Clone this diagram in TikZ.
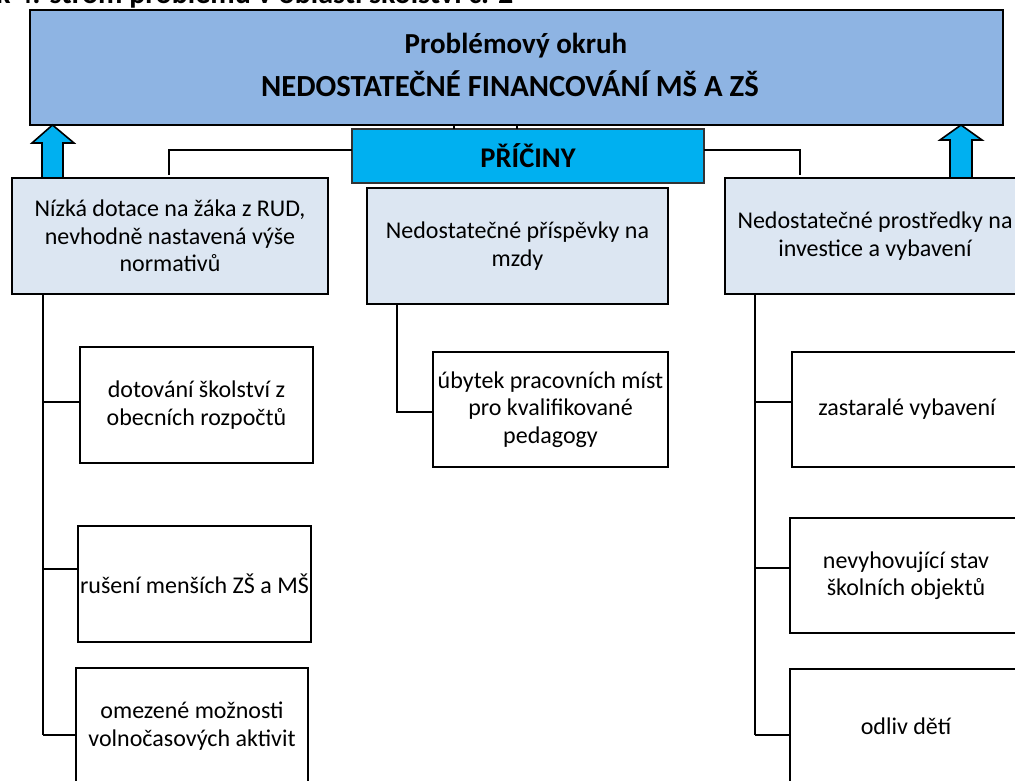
\documentclass[tikz,border=0pt]{standalone}
\usepackage{fontspec}
\setmainfont{Carlito}
\begin{document}
\begin{tikzpicture}[x=1pt,y=-1pt,
  every node/.style={inner sep=0pt,outer sep=0pt,align=center},
  base/.style={draw=black,line width=2pt,rectangle,font=\fontsize{24}{27.5}\selectfont},
  topbox/.style={base,fill=topblue,font=\bfseries\fontsize{29}{35}\selectfont},
  causebox/.style={base,fill=causefill},
  leafbox/.style={base,fill=white},
  pricbox/.style={draw=black!80,line width=1.8pt,rectangle,fill=cyanblue,font=\bfseries\fontsize{28.5}{32}\selectfont},
  conn/.style={draw=black,line width=2.7pt},
  uparrow/.style={draw=black,line width=1.6pt,fill=cyanblue,line join=miter}
]
\definecolor{topblue}{HTML}{8EB4E3}
\definecolor{cyanblue}{HTML}{00B0F0}
\definecolor{causefill}{HTML}{DCE6F2}
\useasboundingbox (0,0) rectangle (1015,780);
\fill[white] (0,0) rectangle (1015,780);

% partially visible caption at the very top
\node[anchor=base west,font=\bfseries\fontsize{30}{35}\selectfont] (cap) at (-4,3) {k 4: strom problému v oblasti školství č. 2};

% main boxes
\node[topbox,minimum width=973,minimum height=115] (top) at (516.5,67.5) {};
\node[font=\bfseries\fontsize{29}{35}\selectfont] (topl1) at (516,46) {Problémový okruh};
\node[font=\bfseries\fontsize{30.7}{35}\selectfont] (topl2) at (510,84) {NEDOSTATEČNÉ FINANCOVÁNÍ MŠ A ZŠ};
\node[pricbox,minimum width=352,minimum height=54] (pr) at (528,156) {PŘÍČINY};

\node[causebox,minimum width=316,minimum height=116] (cL) at (170,236)
  {Nízká dotace na žáka z RUD,\\nevhodně nastavená výše\\normativů};
\node[causebox,minimum width=301,minimum height=116] (cM) at (517.5,246)
  {Nedostatečné příspěvky na\\mzdy};
\node[causebox,minimum width=300,minimum height=116] (cR) at (875,236)
  {Nedostatečné prostředky na\\investice a vybavení};

% leaf boxes
\node[leafbox,minimum width=233,minimum height=116] (l1) at (196.5,405) {dotování školství z\\obecních rozpočtů};
\node[leafbox,minimum width=233,minimum height=116] (l2) at (194.5,584) {rušení menších ZŠ a MŠ};
\node[leafbox,minimum width=232,minimum height=116] (l3) at (192,726) {omezené možnosti\\volnočasových aktivit};

\node[leafbox,minimum width=235,minimum height=115] (m1) at (550.5,409.5) {úbytek pracovních míst\\pro kvalifikované\\pedagogy};

\node[leafbox,minimum width=230,minimum height=115] (r1) at (907,409.5) {zastaralé vybavení};
\node[leafbox,minimum width=232,minimum height=115] (r2) at (906,575.5) {nevyhovující stav\\školních objektů};
\node[leafbox,minimum width=232,minimum height=115] (r3) at (906,726.5) {odliv dětí};

% ticks between top box and PŘÍČINY
\draw[conn,line width=1.5pt] (454,0 |- top.south) -- (454,0 |- pr.north);
\draw[conn,line width=1.5pt] (517,0 |- top.south) -- (517,0 |- pr.north);

% PŘÍČINY to side causes
\draw[conn] (pr.west |- 0,150) -- (169,150) -- (169,175);
\draw[conn] (pr.east |- 0,150) -- (800,150) -- (800,175);

% up arrows
\draw[uparrow] (42,0 |- cL.north) -- (42,143) -- (32,143) -- (52.5,0 |- top.south) -- (74,143) -- (63,143) -- (63,0 |- cL.north) -- cycle;
\draw[uparrow] (950,0 |- cR.north) -- (950,140) -- (940,140) -- (961,0 |- top.south) -- (982,140) -- (972,140) -- (972,0 |- cR.north) -- cycle;

% left tree
\draw[conn] (43,0 |- cL.south) -- (43,735);
\draw[conn] (43,402) -- (l1.west |- 0,402);
\draw[conn] (43,569) -- (l2.west |- 0,569);
\draw[conn] (43,735) -- (l3.west |- 0,735);

% middle tree
\draw[conn] (397,0 |- cM.south) -- (397,412) -- (m1.west |- 0,412);

% right tree
\draw[conn] (755,0 |- cR.south) -- (755,735);
\draw[conn] (755,402) -- (r1.west |- 0,402);
\draw[conn] (755,568) -- (r2.west |- 0,568);
\draw[conn] (755,735) -- (r3.west |- 0,735);
\end{tikzpicture}
\end{document}
